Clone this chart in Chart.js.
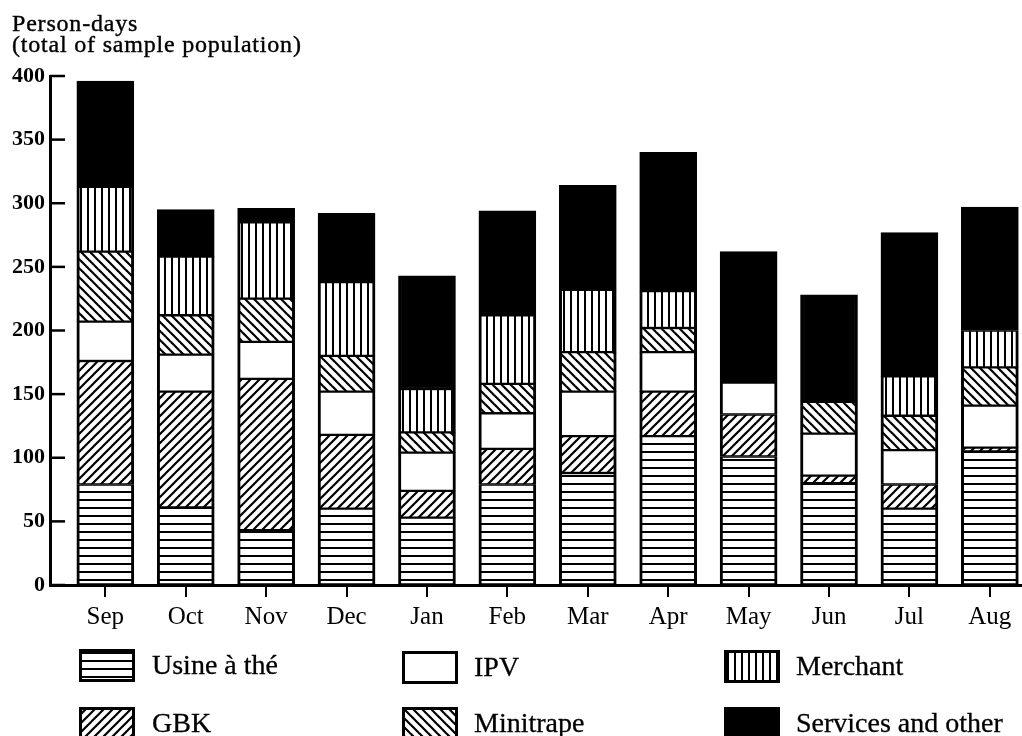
<!DOCTYPE html>
<html>
<head>
<meta charset="utf-8">
<script src="https://cdn.jsdelivr.net/npm/chart.js@4"></script>
<style>
  body { margin: 0; background: #fff; }
  #wrap { position: relative; width: 1022px; height: 736px; overflow: hidden; font-family: "Liberation Serif", serif; color: #000; }
  #chart { position: absolute; left: 0; top: 0; }
  .title { position: absolute; left: 12px; top: 13px; font-size: 24px; line-height: 21px; letter-spacing: 0.8px; -webkit-text-stroke: 0.4px #000; }
  .item { position: absolute; font-size: 28px; line-height: 28px; -webkit-text-stroke: 0.3px #000; }
  .item canvas { position: absolute; left: 0; top: 0; }
  .item span { position: absolute; white-space: nowrap; }
</style>
</head>
<body>
<div id="wrap">
  <canvas id="chart" width="1022" height="736"></canvas>
  <div class="title">Person-days<br>(total of sample population)</div>
  <div id="legend"></div>
</div>
<script>
const months = ['Sep', 'Oct', 'Nov', 'Dec', 'Jan', 'Feb', 'Mar', 'Apr', 'May', 'Jun', 'Jul', 'Aug'];
const usine = [79, 61, 43, 60, 53, 79, 88, 117, 101, 80, 60, 105];
const gbk = [97, 91, 119, 58, 21, 28, 29, 35, 33, 6, 19, 3];
const ipv = [31, 29, 29, 34, 30, 28, 35, 31, 25, 33, 27, 33];
const minitrape = [55, 31, 34, 28, 16, 23, 31, 19, 0, 25, 27, 30];
const merchant = [51, 46, 60, 58, 34, 54, 49, 29, 0, 0, 31, 29];
const services = [83, 37, 11, 54, 89, 82, 82, 109, 103, 84, 113, 97];
const yTicks = [0, 50, 100, 150, 200, 250, 300, 350, 400];

// hatch fills
const makePattern = (kind) => {
  const size = kind === 'h' ? 8 : kind === 'v' ? 7 : 9;
  const c = document.createElement('canvas');
  c.width = size; c.height = size;
  const g = c.getContext('2d');
  g.fillStyle = kind === 'solid' ? '#000' : '#fff';
  g.fillRect(0, 0, size, size);
  g.fillStyle = '#000';
  g.strokeStyle = '#000';
  g.lineWidth = 2.2;
  if (kind === 'h') g.fillRect(0, 3, size, 2);
  if (kind === 'v') g.fillRect(3, 0, 2, size);
  if (kind === 'fwd' || kind === 'back') {
    const segs = kind === 'fwd'
      ? [[0, size, size, 0], [-2, 2, 2, -2], [size - 2, size + 2, size + 2, size - 2]]
      : [[0, 0, size, size], [-2, size - 2, 2, size + 2], [size - 2, -2, size + 2, 2]];
    segs.forEach(([x1, y1, x2, y2]) => {
      g.beginPath(); g.moveTo(x1, y1); g.lineTo(x2, y2); g.stroke();
    });
  }
  return g.createPattern(c, 'repeat');
};

const series = [
  { label: 'Usine à thé', data: usine, kind: 'h' },
  { label: 'GBK', data: gbk, kind: 'fwd' },
  { label: 'IPV', data: ipv, kind: 'white' },
  { label: 'Minitrape', data: minitrape, kind: 'back' },
  { label: 'Merchant', data: merchant, kind: 'v' },
  { label: 'Services and other', data: services, kind: 'solid' },
];

// short tick marks on the inside of the y axis
const innerTicks = {
  id: 'innerTicks',
  afterDraw(chart) {
    const { ctx, chartArea, scales } = chart;
    ctx.save();
    ctx.strokeStyle = '#000';
    ctx.lineWidth = 2.5;
    scales.y.ticks.forEach(t => {
      const y = scales.y.getPixelForValue(t.value);
      ctx.beginPath();
      ctx.moveTo(chartArea.left, y);
      ctx.lineTo(chartArea.left + 15, y);
      ctx.stroke();
    });
    ctx.restore();
  }
};

new Chart(document.getElementById('chart'), {
  type: 'bar',
  data: {
    datasets: series.map(s => ({
      label: s.label,
      data: s.data.map((v, i) => ({ x: i, y: v })),
      backgroundColor: makePattern(s.kind),
      borderColor: '#000',
      borderWidth: { left: 3, right: 3, top: 1.5, bottom: 1.5 },
      borderSkipped: false,
      barThickness: 57,
    })),
  },
  options: {
    responsive: false,
    animation: false,
    layout: { padding: { top: 76, right: 0, left: 0, bottom: 0 } },
    plugins: { legend: { display: false }, tooltip: { enabled: false } },
    scales: {
      x: {
        type: 'linear',
        stacked: true,
        offset: false,
        bounds: 'data',
        min: -0.688,
        max: 11.4,
        afterBuildTicks: (axis) => { axis.ticks = months.map((m, i) => ({ value: i })); },
        afterFit: (axis) => { axis.height = 151; },
        ticks: {
          autoSkip: false,
          maxRotation: 0,
          padding: 5,
          color: '#000',
          font: { family: 'Liberation Serif', size: 25 },
          callback: (v) => months[v],
        },
        grid: { offset: false, drawOnChartArea: false, drawTicks: true, tickLength: 12, color: '#000', lineWidth: 2 },
        border: { color: '#000', width: 3 },
      },
      y: {
        stacked: true,
        min: 0,
        max: 400,
        afterBuildTicks: (axis) => { axis.ticks = yTicks.map(v => ({ value: v })); },
        afterFit: (axis) => { axis.width = 50; },
        ticks: {
          padding: 5,
          color: '#000',
          font: { family: 'Liberation Serif', size: 22, weight: 'bold' },
        },
        grid: { drawOnChartArea: false, drawTicks: false },
        border: { color: '#000', width: 3 },
      },
    },
  },
  plugins: [innerTicks],
});

// legend, laid out in three columns like the original
const legendPos = [
  { x: 79, y: 649 }, { x: 79, y: 707 },
  { x: 402, y: 651 }, { x: 402, y: 707 },
  { x: 724, y: 650 }, { x: 724, y: 707 },
];
const legend = document.getElementById('legend');
series.forEach((s, k) => {
  const pos = legendPos[k];
  const item = document.createElement('div');
  item.className = 'item';
  item.style.left = pos.x + 'px';
  item.style.top = pos.y + 'px';
  const sw = document.createElement('canvas');
  sw.width = 56; sw.height = 33;
  const g = sw.getContext('2d');
  g.fillStyle = makePattern(s.kind);
  g.fillRect(0, 0, 56, 33);
  g.strokeStyle = '#000';
  g.lineWidth = 3;
  g.strokeRect(1.5, 1.5, 53, 30);
  const txt = document.createElement('span');
  txt.textContent = s.label;
  txt.style.left = (k < 2 ? 73 : 72) + 'px';
  txt.style.top = '2px';
  item.appendChild(sw);
  item.appendChild(txt);
  legend.appendChild(item);
});
</script>
</body>
</html>
